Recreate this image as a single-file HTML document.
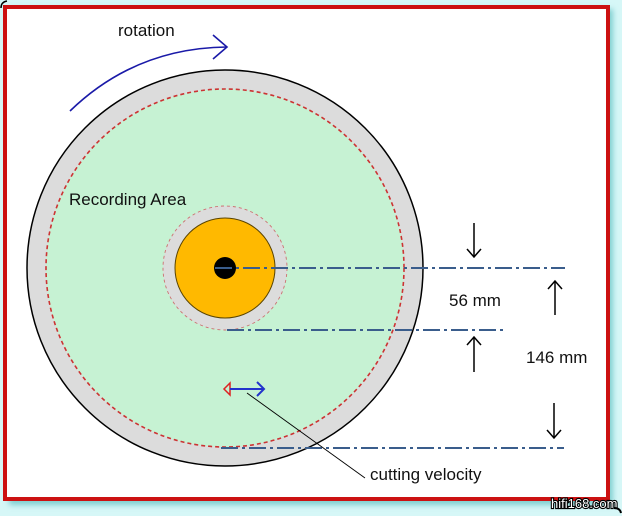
<!DOCTYPE html>
<html><head><meta charset="utf-8"><style>
html,body{margin:0;padding:0;background:#fff;}
svg{display:block;}
text{font-family:"Liberation Sans",Arial,sans-serif;}
</style></head><body>
<svg width="622" height="516" viewBox="0 0 622 516" xmlns="http://www.w3.org/2000/svg">
<defs>
<filter id="sh" x="-5%" y="-5%" width="115%" height="115%">
<feGaussianBlur stdDeviation="3"/>
</filter>
</defs>
<rect x="0" y="0" width="622" height="516" fill="#d6f7f7"/>
<rect x="9" y="9" width="604" height="496" fill="#7fcfd0" filter="url(#sh)"/>
<rect x="3" y="5" width="607" height="496" fill="#ffffff"/>
<rect x="5" y="7" width="603" height="492" fill="none" stroke="#cc1111" stroke-width="4"/>
<path d="M1 8 Q1 2 7 1" fill="none" stroke="#000" stroke-width="1.5"/>

<!-- disc -->
<circle cx="225" cy="268" r="198" fill="#dcdcdc" stroke="#000" stroke-width="1.5"/>
<circle cx="225" cy="268" r="179" fill="#c6f2d3" stroke="#cc3333" stroke-width="1.6" stroke-dasharray="4 3"/>
<circle cx="225" cy="268" r="62" fill="#dcdcdc" stroke="#cc7070" stroke-width="0.9" stroke-dasharray="3 3"/>
<circle cx="225" cy="268" r="50" fill="#ffb900" stroke="#5a4400" stroke-width="1"/>
<circle cx="225" cy="268" r="11" fill="#000"/>

<!-- dash-dot lines -->
<g stroke="#3a5d8c" stroke-width="2" fill="none" stroke-dasharray="17 4 3 4">
<line x1="215" y1="268" x2="565" y2="268"/>
<line x1="227" y1="330" x2="503" y2="330"/>
<line x1="221" y1="448" x2="564" y2="448"/>
</g>

<!-- rotation arrow -->
<path d="M70 111 Q135 48 227 47" fill="none" stroke="#1a1aa8" stroke-width="1.6"/>
<path d="M213 35 L227 47 L213 59" fill="none" stroke="#1a1aa8" stroke-width="1.6"/>
<text x="118" y="36" font-size="17" fill="#111">rotation</text>

<text x="69" y="205" font-size="17" fill="#111">Recording Area</text>

<!-- dimension arrows -->
<g stroke="#000" stroke-width="1.5" fill="none">
<line x1="474" y1="223" x2="474" y2="257"/>
<path d="M467 249 L474 257 L481 249"/>
<line x1="555" y1="281" x2="555" y2="315"/>
<path d="M548 289 L555 281 L562 289"/>
<line x1="474" y1="337" x2="474" y2="372"/>
<path d="M467 345 L474 337 L481 345"/>
<line x1="554" y1="403" x2="554" y2="438"/>
<path d="M547 430 L554 438 L561 430"/>
</g>
<text x="449" y="306" font-size="17" fill="#111">56 mm</text>
<text x="526" y="363" font-size="17" fill="#111">146 mm</text>

<!-- cutting velocity -->
<path d="M230 383 L224 389 L230 395 Z" fill="none" stroke="#dd2222" stroke-width="1.5"/>
<line x1="230" y1="389" x2="264" y2="389" stroke="#2233cc" stroke-width="2"/>
<path d="M257 382 L264 389 L257 396" fill="none" stroke="#2233cc" stroke-width="2"/>
<line x1="247" y1="393" x2="365" y2="478" stroke="#000" stroke-width="0.9"/>
<text x="370" y="480" font-size="17" fill="#111">cutting velocity</text>

<text x="551" y="508" font-size="13" fill="#fff" stroke="#000" stroke-width="2.2" paint-order="stroke">hifi168.com</text>
<path d="M614 508 Q620 508 621 513" fill="none" stroke="#000" stroke-width="2"/>
</svg>
</body></html>
